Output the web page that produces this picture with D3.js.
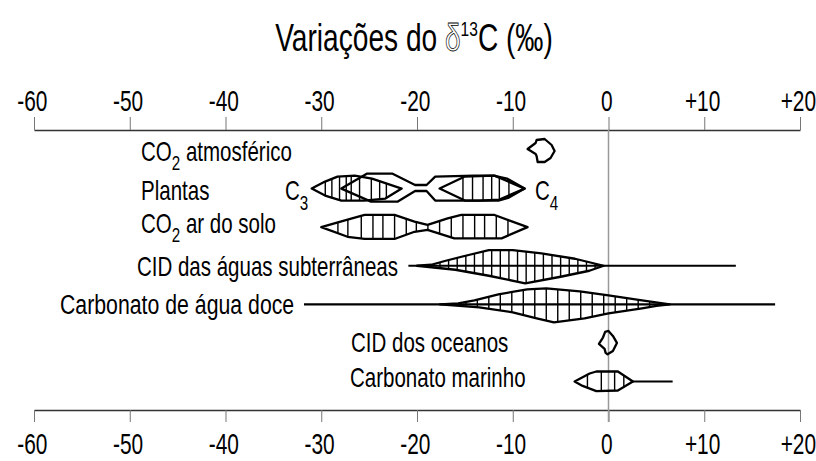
<!DOCTYPE html>
<html><head><meta charset="utf-8">
<script src="https://cdn.jsdelivr.net/npm/d3@7"></script>
<style>
body{margin:0;background:#fff}
text{font-family:"Liberation Sans",Arial,sans-serif;fill:#000}
</style></head><body>
<svg id="c" width="816" height="461"></svg>
<script>
// ---- data ----
const tickValues = [-60,-50,-40,-30,-20,-10,0,10,20];
const categories = ["CO2 atmosférico","Plantas","CO2 ar do solo","CID das águas subterrâneas","Carbonato de água doce","CID dos oceanos","Carbonato marinho"];

// full-range lines (‰)
const rangeRows = ["CID das águas subterrâneas","Carbonato de água doce","Carbonato marinho"];
const rangeFrom = [-20.9, -31.8, 2.5];
const rangeTo   = [13.3, 17.4, 6.7];

// distributions: profiles as [δ13C, relative abundance]
const co2AtmOutline = [[-8.45,-0.05],[-7.61,-0.35],[-7.51,-0.5],[-6.67,-0.55],[-5.94,-0.25],[-5.63,0.05],[-6.05,0.4],[-6.67,0.6],[-7.4,0.6],[-7.51,0.3],[-7.61,0.2]];

const c3Top = [[-31,0],[-29.6,-0.35],[-28.3,-0.6],[-26.5,-0.65],[-24.7,-0.5],[-21.6,0]];
const c3Bottom = [[-29.6,0.35],[-27.9,0.6],[-25.5,0.6],[-23.3,0.5]];
const c3Hatch = [-29.58,-28.89,-28.09,-27.39,-26.87,-26.0,-24.77,-23.9,-23.2];

const camTop = [[-27.9,0],[-25.2,-0.75],[-22.6,-0.75],[-20.2,-0.18],[-19.0,-0.18],[-18.1,-0.6],[-14,-0.65],[-11.9,-0.65],[-8.76,0]];
const camBottom = [[-24.8,0.65],[-22,0.65],[-20.2,0.12],[-19.0,0.12],[-18.1,0.6],[-13.5,0.6],[-11.4,0.55]];

const c4Top = [[-17.64,0],[-15,-0.6],[-12,-0.65],[-10.6,-0.5],[-8.76,0]];
const c4Bottom = [[-15,0.6],[-11.5,0.6],[-10.4,0.45]];
const c4Hatch = [-15.2,-14.2,-13.1,-12.2,-11.4,-10.4];

const soloTop = [[-30,0],[-27.25,-0.38],[-25.47,-0.61],[-22.35,-0.61],[-20.26,-0.28],[-18.9,-0.11],[-16.8,-0.44],[-15.37,-0.61],[-11.9,-0.61],[-8.45,0]];
const soloBottom = [[-27.25,0.48],[-25.47,0.59],[-22.35,0.59],[-20.26,0.23],[-18.9,0.14],[-16.1,0.56],[-11.17,0.56]];
const soloHatch = [-28.26,-27.22,-25.82,-24.6,-23.56,-22.34,-21.12,-20.07,-18.86,-17.64,-16.42,-15.2,-13.98,-12.94,-11.72,-10.5];

const cidTop = [[-20,0],[-18.5,-0.05],[-17,-0.25],[-14.5,-0.55],[-12.5,-0.78],[-10,-0.78],[-7,-0.62],[-3.5,-0.35],[-0.5,0]];
const cidBottom = [[-16,0.2],[-12.5,0.5],[-8.7,0.88],[-5,0.55],[-2,0.25]];
const cidHatch = [-17.6,-16.7,-15.8,-14.9,-14.0,-13.1,-12.2,-11.3,-10.4,-9.5,-8.6,-7.7,-6.8,-5.9,-5.0,-4.1,-3.2,-2.3,-1.4];

const doceTop = [[-17.6,0],[-15.7,-0.05],[-14,-0.2],[-11.5,-0.5],[-8.5,-0.75],[-6.5,-0.8],[-3,-0.65],[0,-0.45],[3.5,-0.2],[6.4,0]];
const doceBottom = [[-13.5,0.15],[-10,0.4],[-7.5,0.7],[-5.7,0.9],[-2.5,0.7],[0,0.45],[3.5,0.2],[5,0.08]];
const doceHatch = [-14.9,-13.7,-12.5,-11.3,-10.1,-8.9,-7.7,-6.5,-5.3,-4.1,-2.9,-1.7,-0.5,0.7,1.9,3.1,4.3];

const oceanOutline = [[-1.0,0.05],[-0.58,-0.27],[-0.35,-0.55],[0,-0.6],[0.46,-0.35],[0.88,0],[0.46,0.4],[-0.1,0.57],[-0.3,0.5],[-0.41,0.3]];

const marTop = [[-3.54,0],[-1.97,-0.4],[-1.27,-0.5],[0.98,-0.5],[2.55,0]];
const marBottom = [[-2.7,0.22],[-1.27,0.48],[0.98,0.45]];
const marHatch = [-2.2,-0.75,0.64,1.6];

const shapes = [
  {row:"CO2 atmosférico", outline:co2AtmOutline, hatch:[]},
  {row:"Plantas", outline:c3Top.concat(c3Bottom.slice().reverse()), hatch:c3Hatch},
  {row:"Plantas", outline:camTop.concat(camBottom.slice().reverse()), hatch:[]},
  {row:"Plantas", outline:c4Top.concat(c4Bottom.slice().reverse()), hatch:c4Hatch},
  {row:"CO2 ar do solo", outline:soloTop.concat(soloBottom.slice().reverse()), hatch:soloHatch},
  {row:"CID das águas subterrâneas", outline:cidTop.concat(cidBottom.slice().reverse()), hatch:cidHatch},
  {row:"Carbonato de água doce", outline:doceTop.concat(doceBottom.slice().reverse()), hatch:doceHatch},
  {row:"CID dos oceanos", outline:oceanOutline, hatch:[]},
  {row:"Carbonato marinho", outline:marTop.concat(marBottom.slice().reverse()), hatch:marHatch}
];

// ---- drawing ----
const svg = d3.select("#c");
const x = d3.scaleLinear().domain([-60,20]).range([34,800]);
const y = d3.scalePoint().domain(categories).range([150,381.5]);
const amp = d3.scaleLinear().domain([0,1]).range([0,20]);
const fmt = d => d > 0 ? "+" + d : String(d);

// condensed text helper
function ntext(xx, yy, size, anchor, sx){
  return svg.append("g").attr("transform",`translate(${xx},${yy}) scale(${sx||0.76},1)`)
    .append("text").attr("x",0).attr("y",0).attr("text-anchor",anchor||"start").style("font-size",size+"px");
}

// title
const title = ntext(414, 51, 38, "middle", 0.74);
title.append("tspan").text("Variações do ");
title.append("tspan").text("δ").style("fill","none").style("stroke","#000").style("stroke-width","0.8px");
title.append("tspan").text("13").attr("dy",-15).style("font-size","21px");
title.append("tspan").text("C (‰)").attr("dy",15);

// axes
function styleAxis(g, ty){
  g.select(".domain").attr("stroke","#333").attr("stroke-width",1.3);
  g.selectAll(".tick line").attr("stroke","#777").attr("stroke-width",1);
  g.selectAll(".tick text").attr("y",ty).attr("dy",0).attr("x",-3)
    .attr("transform","scale(0.72,1)")
    .style("font-size","29px").style("font-family",'"Liberation Sans",Arial,sans-serif').attr("fill","#000");
}
const gTop = svg.append("g").attr("transform","translate(0,130)")
  .call(d3.axisTop(x).tickValues(tickValues).tickFormat(fmt).tickSize(13).tickSizeOuter(0));
styleAxis(gTop,-19);
const gBot = svg.append("g").attr("transform","translate(0,410)")
  .call(d3.axisBottom(x).tickValues(tickValues).tickFormat(fmt).tickSize(12).tickSizeOuter(0));
styleAxis(gBot,44);

// zero line
svg.append("line").attr("x1",x(0)).attr("x2",x(0)).attr("y1",130).attr("y2",422)
  .attr("stroke","#999").attr("stroke-width",1.5);

// range lines
rangeRows.forEach((r,i)=>{
  svg.append("line").attr("x1",x(rangeFrom[i])).attr("x2",x(rangeTo[i]))
    .attr("y1",y(r)).attr("y2",y(r)).attr("stroke","#000").attr("stroke-width",2.2);
});

// shapes
const defs = svg.append("defs");
const line = d3.line();
shapes.forEach((s,i)=>{
  const pts = s.outline.map(([v,f]) => [x(v), y(s.row) + amp(f)]);
  const d = line(pts) + "Z";
  defs.append("clipPath").attr("id","clip"+i).append("path").attr("d",d);
  const g = svg.append("g");
  g.selectAll("line").data(s.hatch).join("line")
    .attr("x1",v=>x(v)).attr("x2",v=>x(v))
    .attr("y1",y(s.row)-amp(1.2)).attr("y2",y(s.row)+amp(1.2))
    .attr("clip-path","url(#clip"+i+")")
    .attr("stroke","#000").attr("stroke-width",1.4);
  g.append("path").attr("d",d).attr("fill","none").attr("stroke","#000")
    .attr("stroke-width",2.3).attr("stroke-linejoin","round");
});

// labels
function co2(t, rest){ t.append("tspan").text("CO"); t.append("tspan").text("2").attr("dy",9).style("font-size","20px");
  t.append("tspan").text(rest).attr("dy",-9); }
co2(ntext(141, y("CO2 atmosférico")+11, 27), " atmosférico");
ntext(141, y("Plantas")+11, 27).text("Plantas");
co2(ntext(141, y("CO2 ar do solo")+6, 27), " ar do solo");
ntext(398, y("CID das águas subterrâneas")+10, 27, "end").text("CID das águas subterrâneas");
ntext(60, y("Carbonato de água doce")+10, 28).text("Carbonato de água doce");
ntext(351, y("CID dos oceanos")+9, 27).text("CID dos oceanos");
ntext(350, y("Carbonato marinho")+5, 27).text("Carbonato marinho");
// C3 / C4
[["3",285],["4",535]].forEach(([n,xx])=>{
  const t = ntext(xx, y("Plantas")+11, 27);
  t.append("tspan").text("C");
  t.append("tspan").text(n).attr("dy",10).style("font-size","20px");
});
</script>
</body></html>
